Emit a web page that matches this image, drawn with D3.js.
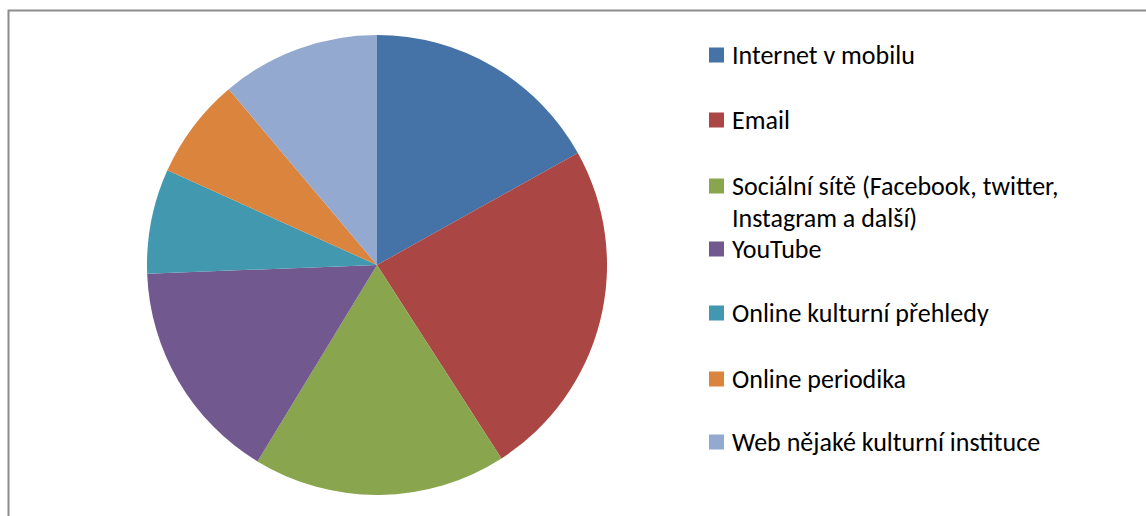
<!DOCTYPE html>
<html>
<head>
<meta charset="utf-8">
<script src="https://cdn.jsdelivr.net/npm/d3@7"></script>
<style>
  body { margin: 0; background: #fff; }
  svg { display: block; }
</style>
</head>
<body>
<svg width="1146" height="516"></svg>
<script>
// data (shares in %)
var categories = [
    "Internet v mobilu",
    "Email",
    "Sociální sítě (Facebook, twitter, Instagram a další)",
    "YouTube",
    "Online kulturní přehledy",
    "Online periodika",
    "Web nějaké kulturní instituce"
];
var values = [16.9, 24.0, 17.8, 15.7, 7.35, 7.1, 11.15];
var colors = ["#4572A7", "#AA4643", "#89A54E", "#71588F", "#4198AF", "#DB843D", "#93A9CF"];
// legend text broken into lines as in the original
var legendLines = [
    ["Internet v mobilu"],
    ["Email"],
    ["Sociální sítě (Facebook, twitter,", "Instagram a další)"],
    ["YouTube"],
    ["Online kulturní přehledy"],
    ["Online periodika"],
    ["Web nějaké kulturní instituce"]
];
var legendY = [55, 120, 186, 249, 313, 379, 442];

function main() {
    var svg = d3.select("svg");

    // chart frame
    svg.append("rect")
        .attr("x", 8.5)
        .attr("y", 10.5)
        .attr("width", 1200)
        .attr("height", 600)
        .attr("fill", "none")
        .attr("stroke", "#8c8c8c")
        .attr("stroke-width", 2);

    var cx = 377, cy = 265, radius = 230;

    var pie = d3.pie().sort(null).value(function (d) { return d; });
    var arc = d3.arc().innerRadius(0).outerRadius(radius);
    var color = d3.scaleOrdinal().domain(categories).range(colors);

    var g = svg.append("g").attr("transform", "translate(" + cx + "," + cy + ")");
    g.selectAll("path")
        .data(pie(values))
        .enter().append("path")
        .attr("d", arc)
        .attr("fill", function (d, i) { return color(categories[i]); });

    // legend
    var legend = svg.append("g").attr("class", "legend");
    var item = legend.selectAll("g")
        .data(categories)
        .enter().append("g")
        .attr("transform", function (d, i) { return "translate(709," + legendY[i] + ")"; });

    item.append("rect")
        .attr("x", 0)
        .attr("y", -7.5)
        .attr("width", 15)
        .attr("height", 15)
        .attr("fill", function (d) { return color(d); });

    item.each(function (d, i) {
        var t = d3.select(this).append("text")
            .attr("x", 23)
            .attr("y", 0)
            .attr("font-family", "Carlito, Lato, 'Open Sans', sans-serif")
            .attr("font-size", "26px")
            .attr("fill", "#000");
        legendLines[i].forEach(function (line, k) {
            t.append("tspan")
                .attr("x", 23)
                .attr("dy", k === 0 ? "0.35em" : "32px")
                .text(line);
        });
    });
}
main();
</script>
</body>
</html>
